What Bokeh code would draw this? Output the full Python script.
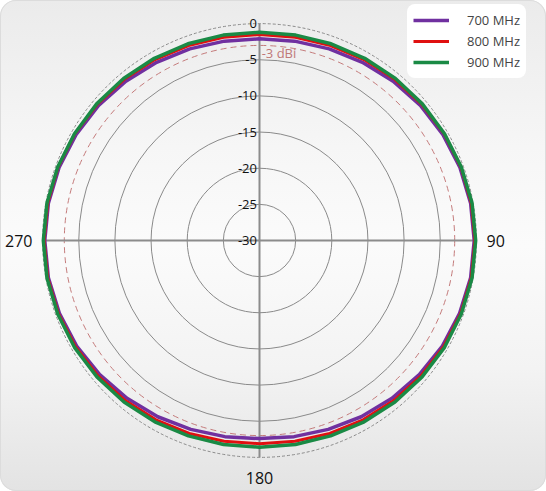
import numpy as np
from bokeh.plotting import figure
from bokeh.models import Legend, LegendItem
from bokeh.core.properties import value
from bokeh.embed import file_html
from bokeh.resources import INLINE

# ---- data ----
angles_deg = list(range(0, 360, 10))
gain_700 = [-2.1, -2.0, -1.8, -1.55, -1.25, -0.95, -0.7, -0.5, -0.35, -0.3, -0.35, -0.55,
            -0.8, -1.15, -1.5, -1.85, -2.2, -2.45, -2.6, -2.45, -2.2, -1.85, -1.5, -1.15,
            -0.8, -0.55, -0.35, -0.3, -0.35, -0.5, -0.7, -0.95, -1.25, -1.55, -1.8, -2.0]
gain_800 = [-1.5, -1.45, -1.3, -1.1, -0.9, -0.7, -0.5, -0.35, -0.25, -0.2, -0.25, -0.4,
            -0.6, -0.85, -1.1, -1.35, -1.6, -1.8, -1.9, -1.8, -1.6, -1.35, -1.1, -0.85,
            -0.6, -0.4, -0.25, -0.2, -0.25, -0.35, -0.5, -0.7, -0.9, -1.1, -1.3, -1.45]
gain_900 = [-1.2, -1.15, -1.05, -0.9, -0.75, -0.6, -0.45, -0.3, -0.15, -0.1, -0.15, -0.3,
            -0.45, -0.65, -0.85, -1.05, -1.25, -1.35, -1.4, -1.35, -1.25, -1.05, -0.85, -0.65,
            -0.45, -0.3, -0.15, -0.1, -0.15, -0.3, -0.45, -0.6, -0.75, -0.9, -1.05, -1.15]
series_names = ["700 MHz", "800 MHz", "900 MHz"]
series_colors = ["#7030a0", "#e01010", "#1a8a45"]
ring_db = [-25, -20, -15, -10, -5]
tick_db = [0, -5, -10, -15, -20, -25, -30]
ref_db = -3
ref_label = "-3 dBi"
angle_labels = ["90", "180", "270"]
db_min = -30

W, H = 546, 491
PX = 7.23  # pixels per dB
cx, cy = 259, 251  # center in px from left / bottom

p = figure(width=W, height=H, output_backend="svg", toolbar_location=None,
           x_range=(-cx / PX, (W - cx) / PX), y_range=(-cy / PX, (H - cy) / PX),
           x_axis_location=None, y_axis_location=None, min_border=0,
           tools="")
p.grid.visible = False
p.outline_line_color = None
p.background_fill_alpha = 0
p.border_fill_alpha = 0
p.styles = {
    "background": "linear-gradient(180deg, #ebebeb 0%, #f6f6f6 30%, #fbfbfb 50%, #f3f3f3 75%, #e3e3e3 100%)",
    "border-radius": "16px",
    "box-shadow": "inset 0 0 0 1px #dcdcdc",
}

def r_of(db):
    return np.asarray(db, dtype=float) - db_min

# grid rings
p.circle(x=[0] * len(ring_db), y=[0] * len(ring_db), radius=list(r_of(ring_db)),
         fill_color=None, line_color="#8a8a8a", line_width=1)
p.circle(x=[0], y=[0], radius=[r_of(0)], fill_color=None, line_color="#8a8a8a",
         line_width=1, line_dash="3 2")
p.circle(x=[0], y=[0], radius=[r_of(ref_db)], fill_color=None, line_color="#c47b7b",
         line_width=1, line_dash="6 4")

# axes lines
R0 = float(r_of(0))
p.segment(x0=[-R0, 0], y0=[0, -R0], x1=[R0, 0], y1=[0, R0], line_color="#8c8c8c", line_width=2)

# series
th = np.deg2rad(np.array(angles_deg + [angles_deg[0]], dtype=float))
renderers = []
for gains, color, width in zip([gain_700, gain_800, gain_900], series_colors, [3.5, 3, 3.5]):
    r = r_of(list(gains) + [gains[0]])
    rr = p.line(x=r * np.sin(th), y=r * np.cos(th), line_color=color, line_width=width,
                line_join="round")
    renderers.append(rr)

# dB labels
p.text(x=[-0.35] * len(tick_db), y=list(r_of(tick_db)), text=[str(t) for t in tick_db],
       text_align="right", text_baseline="middle", text_font=value("Open Sans"),
       text_font_size="13px", text_color="#111111")
p.text(x=[0.3], y=[r_of(ref_db) - 1.0], text=[ref_label], text_align="left",
       text_baseline="middle", text_font=value("Open Sans"), text_font_size="13px",
       text_color="#c07878")

# angle labels
p.text(x=[R0 + 1.4, 0, -R0 - 1.4], y=[0, -R0 - 2.8, 0], text=angle_labels,
       text_align=["left", "center", "right"], text_baseline="middle",
       text_font=value("Open Sans"), text_font_size="16px", text_color="#111111")

legend = Legend(items=[LegendItem(label=n, renderers=[r]) for n, r in zip(series_names, renderers)],
                location=(407, 413), glyph_width=36, glyph_height=20, label_height=20,
                spacing=1, padding=6, margin=0, label_standoff=18,
                label_text_font="Open Sans", label_text_font_size="13px",
                border_line_alpha=0, background_fill_color="white", background_fill_alpha=1)
legend.border_radius = 8
p.add_layout(legend)

open("out.html", "w").write(file_html(p, INLINE))
